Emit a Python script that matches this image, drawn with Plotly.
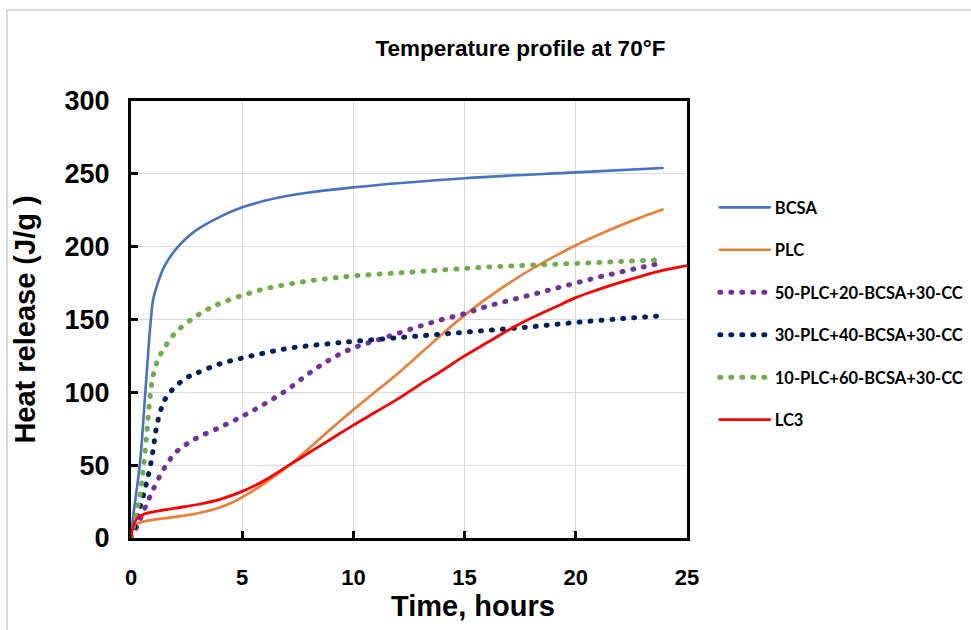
import plotly.graph_objects as go

# ---- data ----
bcsa_t = [0, 0.1, 0.4, 0.63, 0.8, 0.9, 1.0, 1.25, 1.5, 2.0, 2.5, 3.0, 4.0, 5.0, 6.0, 7.0, 8.0, 10.0, 12.0, 15.0, 20.0, 23.9]
bcsa_v = [0, 15, 51, 97, 133, 151, 164, 177, 186.5, 198, 206, 212, 220.5, 227, 231.5, 234.8, 237.2, 240.7, 243.5, 247, 251, 254]

plc_t = [0, 0.1, 0.3, 1, 2, 3, 4, 4.5, 5, 5.5, 6, 7, 8, 9, 10, 11, 12, 13, 14, 15, 16, 17, 18, 19, 20, 21, 22, 23, 23.9]
plc_v = [0, 7, 10, 12.5, 14.5, 17, 21, 24, 28, 32.5, 37.5, 48.5, 61.5, 75, 88, 100.5, 113, 126.5, 140, 153, 164.5, 175, 184.5, 193, 201, 208, 214.5, 220.5, 225.5]

mix50_t = [0, 0.25, 0.5, 0.75, 1, 1.5, 2, 2.5, 3, 4, 5, 6, 7, 8, 9, 10, 11, 12, 13, 14, 15, 16, 17, 18, 19, 20, 21, 22, 23, 23.9]
mix50_v = [0, 7.5, 16, 25, 33.5, 48, 58.5, 64.5, 69, 76, 83.5, 92, 101.5, 113, 123, 130.5, 135.5, 140.5, 145.5, 150, 154, 159, 163, 167, 171, 175, 179, 182.5, 186, 189]

mix30_t = [0, 0.25, 0.4, 0.55, 0.7, 0.85, 1.0, 1.1, 1.25, 1.4, 1.6, 2, 2.5, 3, 4, 5, 6, 7, 8, 9, 10, 12, 14, 16, 18, 20, 22, 23.9]
mix30_v = [0, 12, 21, 29, 38, 48, 61, 72, 83, 90.5, 97, 104, 110, 113.5, 119.5, 123.5, 127, 130, 132, 133.5, 135, 137.5, 140, 142.5, 145, 148, 150.5, 152.6]

mix10_t = [0, 0.25, 0.4, 0.55, 0.7, 0.8, 0.9, 1.0, 1.2, 1.5, 2, 2.5, 3, 3.5, 4, 5, 6, 7, 8, 9, 10, 12, 14, 16, 18, 20, 22, 23.9]
mix10_v = [0, 18, 29, 47, 70, 88, 102, 112, 122, 130.5, 141, 147.5, 153, 157.5, 161, 166.5, 171, 174, 176.5, 178.3, 180, 182, 184, 186, 187.3, 188.5, 189.8, 191]

lc3_t = [0, 0.1, 0.3, 0.6, 1, 2, 3, 4, 5, 6, 7, 8, 9, 10, 11, 12, 13, 14, 15, 16, 17, 18, 19, 20, 21, 22, 23, 24, 25]
lc3_v = [0, 8, 14, 16.5, 18, 20.5, 23, 26.5, 32, 39.5, 49, 58.5, 68, 77.5, 86.5, 95.5, 105.5, 115, 125, 134, 143, 151, 158, 165, 170.5, 175.5, 180, 184, 187]

x_ticks = [0, 5, 10, 15, 20, 25]
y_ticks = [0, 50, 100, 150, 200, 250, 300]

series = [
    ("BCSA", bcsa_t, bcsa_v, "#4472C4", "solid", 2.6),
    ("PLC", plc_t, plc_v, "#ED7D31", "solid", 2.6),
    ("50-PLC+20-BCSA+30-CC", mix50_t, mix50_v, "#7030A0", "1px,10px", 5),
    ("30-PLC+40-BCSA+30-CC", mix30_t, mix30_v, "#002060", "1px,10px", 5),
    ("10-PLC+60-BCSA+30-CC", mix10_t, mix10_v, "#70AD47", "1px,10px", 5),
    ("LC3", lc3_t, lc3_v, "#FF0000", "solid", 2.8),
]

fig = go.Figure()
for i, (name, t, v, color, dash, w) in enumerate(series):
    fig.add_trace(go.Scatter(
        x=t, y=v, name=name, mode="lines",
        line=dict(color=color, dash=dash, width=w, shape="spline", smoothing=1.0),
        legendgroup=f"g{i}",
    ))

arial = "Liberation Sans, Arial"

fig.update_layout(
    width=971, height=630,
    margin=dict(l=131, r=284, t=101, b=92, autoexpand=False),
    paper_bgcolor="white", plot_bgcolor="white",
    title=dict(text="Temperature profile at 70°F", x=0.536, xanchor="center",
               y=0.924, yanchor="middle",
               font=dict(family=arial, size=22.5, color="black", weight="bold")),
    legend=dict(x=1.05, xanchor="left", y=0.796, yanchor="top",
                font=dict(family="Lato, Liberation Sans", size=16.5, color="black", weight="bold"),
                tracegroupgap=18, itemwidth=50, bgcolor="rgba(0,0,0,0)"),
    showlegend=True,
    shapes=[dict(type="rect", xref="paper", yref="paper",
                 x0=-0.223, x1=2.0, y0=-0.5, y1=1.208,
                 line=dict(color="#d9d9d9", width=2), fillcolor="rgba(0,0,0,0)", layer="below")],
    annotations=[dict(text="Time, hours", xref="paper", yref="paper", x=0.615, y=-0.156,
                      xanchor="center", yanchor="middle", showarrow=False,
                      font=dict(family=arial, size=29, color="black", weight="bold"))],
)

fig.update_xaxes(
    range=[0, 25], tickvals=x_ticks, ticktext=[str(v) for v in x_ticks],
    showgrid=True, gridcolor="#d9d9d9", gridwidth=1,
    showline=True, linecolor="black", linewidth=3, mirror=True,
    ticks="inside", ticklen=7, tickwidth=3, tickcolor="black",
    tickfont=dict(family=arial, size=22, color="black", weight="bold"),
    ticklabelstandoff=18,
    zeroline=False,
)
fig.update_yaxes(
    range=[0, 300], tickvals=y_ticks, ticktext=[str(v) for v in y_ticks],
    showgrid=True, gridcolor="#d9d9d9", gridwidth=1,
    showline=True, linecolor="black", linewidth=3, mirror=True,
    ticks="inside", ticklen=7, tickwidth=3, tickcolor="black",
    tickfont=dict(family=arial, size=27, color="black", weight="bold"),
    ticklabelstandoff=13,
    title=dict(text="Heat release (J/g )", font=dict(family=arial, size=29, color="black", weight="bold"), standoff=21),
    zeroline=False,
)

post = "document.querySelectorAll('path.js-line').forEach(function(p){p.style.strokeLinecap='round';});"
fig.write_html("out.html", post_script=post)
